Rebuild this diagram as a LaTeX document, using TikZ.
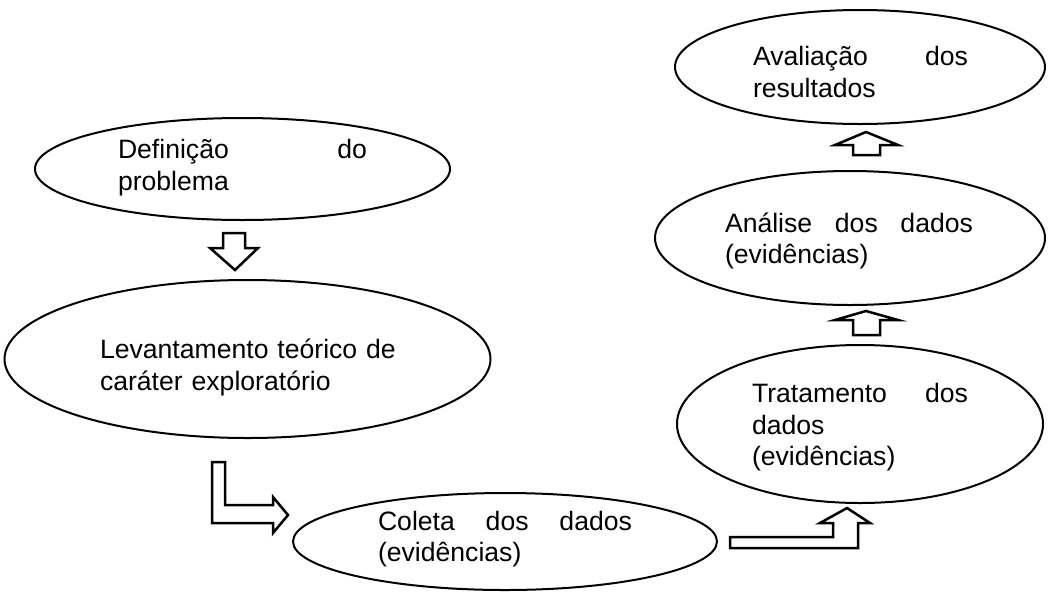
\documentclass[tikz,border=0pt]{standalone}
\usepackage{fontspec}
\setmainfont{Liberation Sans}
\usetikzlibrary{shapes}
\tikzset{etapa/.style={shape=ellipse, draw, line width=2pt, inner sep=0pt},
  rotulo/.style={inner sep=0pt, align=left, font=\fontsize{26.6}{31.5}\selectfont},
  seta/.style={draw, line width=2.5pt, line join=miter, fill=white}}
\newcommand{\setacima}[4]{\draw[seta] (#1,#2) -- (#1,#3) -- (#1-18,#3) -- (#1+13,#4) -- (#1+45,#3) -- (#1+27,#3) -- (#1+27,#2) -- cycle;}

\begin{document}
\begin{tikzpicture}[x=1pt,y=-1pt]
\useasboundingbox (0,0) rectangle (1048,595);
% ellipses
\node[etapa, minimum width=415, minimum height=102] (def) at (242.5,169) {};
\node[etapa, minimum width=486, minimum height=158] (lev) at (247.5,359) {};
\node[etapa, minimum width=424, minimum height=97] (col) at (505,541.5) {};
\node[etapa, minimum width=366, minimum height=158] (trat) at (860,424) {};
\node[etapa, minimum width=390, minimum height=134] (anal) at (850,238) {};
\node[etapa, minimum width=370, minimum height=114] (aval) at (860,67) {};
% texts
\node[rotulo, text width=249] (tdef) at (242.5,167.5) {Definição\hfill do\\problema};
\node[rotulo, text width=300] (tlev) at (250,367.5) {Levantamento teórico de\\caráter exploratório};
\node[rotulo, text width=254] (tcol) at (505,539) {Coleta\hfill dos\hfill dados\\(evidências)};
\node[rotulo, text width=216] (ttrat) at (860,427.5) {Tratamento\hfill dos\\dados\\(evidências)};
\node[rotulo, text width=248] (tanal) at (849,241) {Análise\hfill dos\hfill dados\\(evidências)};
\node[rotulo, text width=215] (taval) at (860.5,72) {Avaliação\hfill dos\\resultados};
% block arrows
\draw[seta] (223,233) -- (245,233) -- (245,248) -- (258,248) -- (235,270) -- (210,248) -- (223,248) -- cycle;
\draw[seta] (212,462) -- (225,462) -- (225,505) -- (273,505) -- (273,497) -- (288,515) -- (273,533) -- (273,523) -- (212,523) -- cycle;
\draw[seta] (730,537) -- (833,537) -- (833,523) -- (820,523) -- (847,508) -- (870,523) -- (858,523) -- (858,548) -- (730,548) -- cycle;
\setacima{853}{335}{320}{311}
\setacima{853}{155}{145}{132}
\end{tikzpicture}
\end{document}
